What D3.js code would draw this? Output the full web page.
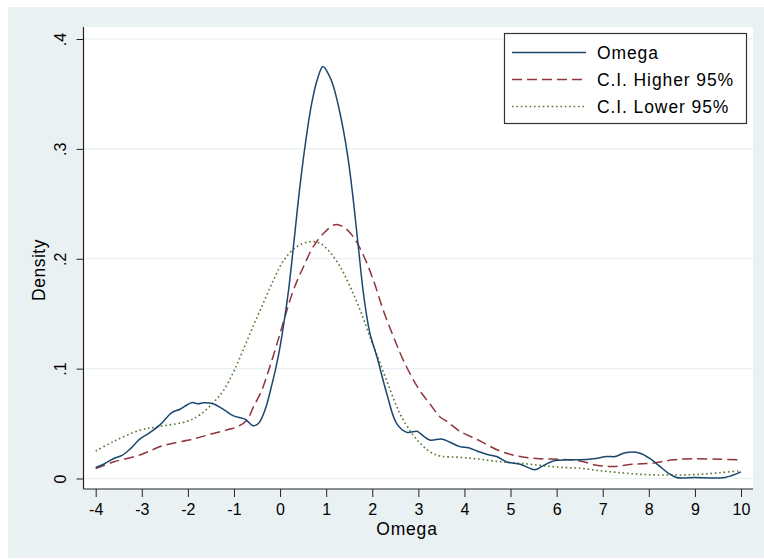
<!DOCTYPE html>
<html>
<head>
<meta charset="utf-8">
<script src="https://cdn.jsdelivr.net/npm/d3@7"></script>
<style>
  body { margin: 0; background: #ffffff; }
  text { font-family: "Liberation Sans", Arial, sans-serif; fill: #000; }
</style>
</head>
<body>
<script>
// kernel density of Omega with 95% bounds
const omegaX = [-4.0, -3.83, -3.62, -3.43, -3.25, -3.04, -2.82, -2.6, -2.35, -2.17, -1.92, -1.77, -1.66, -1.45, -1.23, -1.01, -0.76, -0.59, -0.47, -0.33, -0.18, -0.04, 0.07, 0.18, 0.3, 0.42, 0.55, 0.68, 0.8, 0.93, 1.05, 1.15, 1.25, 1.37, 1.48, 1.59, 1.7, 1.81, 1.95, 2.1, 2.31, 2.53, 2.75, 2.97, 3.04, 3.25, 3.51, 3.69, 3.9, 4.09, 4.27, 4.48, 4.7, 4.92, 5.21, 5.53, 5.68, 5.93, 6.22, 6.51, 6.8, 7.09, 7.27, 7.45, 7.59, 7.81, 8.03, 8.24, 8.42, 8.6, 9.0, 9.65, 10.0];
const omegaY = [0.010, 0.013, 0.018, 0.021, 0.027, 0.036, 0.042, 0.049, 0.060, 0.063, 0.069, 0.068, 0.069, 0.068, 0.063, 0.057, 0.054, 0.048, 0.050, 0.062, 0.085, 0.111, 0.138, 0.170, 0.215, 0.262, 0.305, 0.340, 0.362, 0.375, 0.368, 0.358, 0.342, 0.318, 0.290, 0.253, 0.210, 0.168, 0.132, 0.111, 0.078, 0.050, 0.042, 0.043, 0.041, 0.035, 0.036, 0.033, 0.029, 0.028, 0.025, 0.022, 0.020, 0.015, 0.013, 0.008, 0.011, 0.016, 0.017, 0.017, 0.018, 0.020, 0.020, 0.023, 0.024, 0.023, 0.018, 0.011, 0.005, 0.001, 0.001, 0.001, 0.006];

const higherX = [-4.0, -3.62, -3.07, -2.53, -1.88, -1.45, -1.08, -0.93, -0.72, -0.58, -0.4, -0.22, -0.05, 0.07, 0.29, 0.51, 0.72, 0.94, 1.19, 1.37, 1.59, 1.81, 2.02, 2.24, 2.46, 2.67, 3.0, 3.25, 3.47, 3.62, 3.9, 4.3, 4.77, 5.21, 5.64, 6.07, 6.51, 6.87, 7.23, 7.66, 8.09, 8.53, 8.97, 9.54, 10.0];
const higherY = [0.009, 0.015, 0.021, 0.030, 0.036, 0.041, 0.045, 0.047, 0.053, 0.065, 0.080, 0.102, 0.125, 0.142, 0.1715, 0.193, 0.211, 0.223, 0.231, 0.229, 0.220, 0.203, 0.181, 0.153, 0.129, 0.108, 0.082, 0.068, 0.056, 0.052, 0.043, 0.035, 0.025, 0.020, 0.018, 0.0175, 0.016, 0.012, 0.011, 0.013, 0.014, 0.017, 0.018, 0.0175, 0.017];

const lowerX = [-4.0, -3.62, -3.04, -2.67, -2.02, -1.74, -1.45, -1.23, -1.01, -0.8, -0.58, -0.36, -0.15, 0.07, 0.36, 0.65, 0.87, 1.08, 1.3, 1.52, 1.74, 1.95, 2.17, 2.39, 2.6, 2.86, 3.04, 3.25, 3.47, 3.9, 4.34, 4.77, 5.21, 5.64, 6.07, 6.51, 6.94, 7.38, 7.81, 8.24, 8.68, 9.11, 9.54, 10.0];
const lowerY = [0.025, 0.0335, 0.044, 0.047, 0.052, 0.058, 0.069, 0.080, 0.097, 0.117, 0.139, 0.160, 0.180, 0.198, 0.211, 0.2155, 0.214, 0.206, 0.193, 0.1745, 0.153, 0.129, 0.105, 0.0805, 0.059, 0.041, 0.032, 0.0244, 0.0205, 0.0193, 0.0175, 0.0153, 0.0138, 0.012, 0.0102, 0.0093, 0.0071, 0.0053, 0.0038, 0.0032, 0.0032, 0.0038, 0.0053, 0.0071];

const xTicks = [-4, -3, -2, -1, 0, 1, 2, 3, 4, 5, 6, 7, 8, 9, 10];
const yTicks = [0, 0.1, 0.2, 0.3, 0.4];

const seriesNames = ["Omega", "C.I. Higher 95%", "C.I. Lower 95%"];
const seriesColors = ["#1a476f", "#90353b", "#55752f"];
const seriesDash = [null, "10,5", "1.6,2.8"];

// layout (matches Stata s2color look)
const W = 764, H = 559;
const plot = { left: 83.5, right: 753, top: 27, bottom: 489 };

const svg = d3.select("body").append("svg")
    .attr("width", W)
    .attr("height", H);

// graph region
svg.append("rect")
    .attr("x", 8).attr("y", 7)
    .attr("width", W - 8).attr("height", H - 8)
    .attr("fill", "#eaf1f3");

// plot region
svg.append("rect")
    .attr("x", plot.left).attr("y", plot.top)
    .attr("width", plot.right - plot.left)
    .attr("height", plot.bottom - plot.top)
    .attr("fill", "#ffffff");

const x = d3.scaleLinear().domain([-4, 10]).range([95.7, 741]);
const y = d3.scaleLinear().domain([0, 0.4]).range([478.5, 39]);

// gridlines
svg.append("g").selectAll("line")
    .data(yTicks)
    .enter()
    .append("line")
    .attr("x1", plot.left).attr("x2", plot.right)
    .attr("y1", d => y(d)).attr("y2", d => y(d))
    .attr("stroke", "#e6eff1")
    .attr("stroke-width", 1.2);

// y axis
const yAxis = svg.append("g")
    .attr("transform", "translate(" + plot.left + ",0)")
    .call(d3.axisLeft(y).tickValues(yTicks).tickSize(7).tickSizeOuter(0)
        .tickFormat(d => d === 0 ? "0" : d3.format(".1f")(d).replace("0.", ".")));
yAxis.select(".domain").remove();
yAxis.selectAll(".tick line").attr("stroke", "#222");
yAxis.selectAll(".tick text")
    .attr("x", null).attr("dy", null)
    .attr("text-anchor", "middle")
    .attr("transform", "translate(-17.5,0) rotate(-90)")
    .style("font-size", "16px")
    .style("font-family", "'Liberation Sans', Arial, sans-serif")
    .attr("fill", "#000");

// x axis
const xAxis = svg.append("g")
    .attr("transform", "translate(0," + plot.bottom + ")")
    .call(d3.axisBottom(x).tickValues(xTicks).tickSize(8).tickSizeOuter(0)
        .tickFormat(d => String(d)));
xAxis.select(".domain").remove();
xAxis.selectAll(".tick line").attr("stroke", "#222");
xAxis.selectAll(".tick text")
    .attr("y", 26).attr("dy", null)
    .style("font-size", "16px")
    .style("font-family", "'Liberation Sans', Arial, sans-serif")
    .attr("fill", "#000");

// axis lines along the plot region edges
svg.append("line")
    .attr("x1", plot.left).attr("x2", plot.left)
    .attr("y1", plot.top).attr("y2", plot.bottom)
    .attr("stroke", "#222").attr("stroke-width", 1.2);
svg.append("line")
    .attr("x1", plot.left).attr("x2", plot.right)
    .attr("y1", plot.bottom).attr("y2", plot.bottom)
    .attr("stroke", "#222").attr("stroke-width", 1.2);

// axis titles
svg.append("text")
    .attr("transform", "translate(45,270) rotate(-90)")
    .attr("text-anchor", "middle")
    .style("font-size", "17.5px")
    .style("letter-spacing", "0.5px")
    .text("Density");

svg.append("text")
    .attr("x", 407).attr("y", 535)
    .attr("text-anchor", "middle")
    .style("font-size", "17.5px")
    .style("letter-spacing", "0.8px")
    .text("Omega");

// curves
const line = d3.line()
    .x(d => x(d[0]))
    .y(d => y(d[1]))
    .curve(d3.curveCatmullRom.alpha(0.5));

const series = [
    d3.zip(higherX, higherY),
    d3.zip(lowerX, lowerY),
    d3.zip(omegaX, omegaY)
];
const order = [1, 2, 0];

series.forEach((pts, i) => {
    const k = order[i];
    svg.append("path")
        .datum(pts)
        .attr("d", line)
        .attr("fill", "none")
        .attr("stroke", seriesColors[k])
        .attr("stroke-width", k === 2 ? 1.6 : 1.5)
        .attr("stroke-dasharray", seriesDash[k]);
});

// legend
const legend = svg.append("g");
legend.append("rect")
    .attr("x", 504.5).attr("y", 33.5)
    .attr("width", 242).attr("height", 90)
    .attr("fill", "#ffffff")
    .attr("stroke", "#333")
    .attr("stroke-width", 1.2);

const rowY = [52.5, 79.5, 106.5];
seriesNames.forEach((name, i) => {
    legend.append("line")
        .attr("x1", 512).attr("x2", 586)
        .attr("y1", rowY[i]).attr("y2", rowY[i])
        .attr("stroke", seriesColors[i])
        .attr("stroke-width", 1.5)
        .attr("stroke-dasharray", seriesDash[i]);
    legend.append("text")
        .attr("x", 597).attr("y", rowY[i] + 6)
        .style("font-size", "17.5px")
        .style("letter-spacing", "0.9px")
        .text(name);
});
</script>
</body>
</html>
